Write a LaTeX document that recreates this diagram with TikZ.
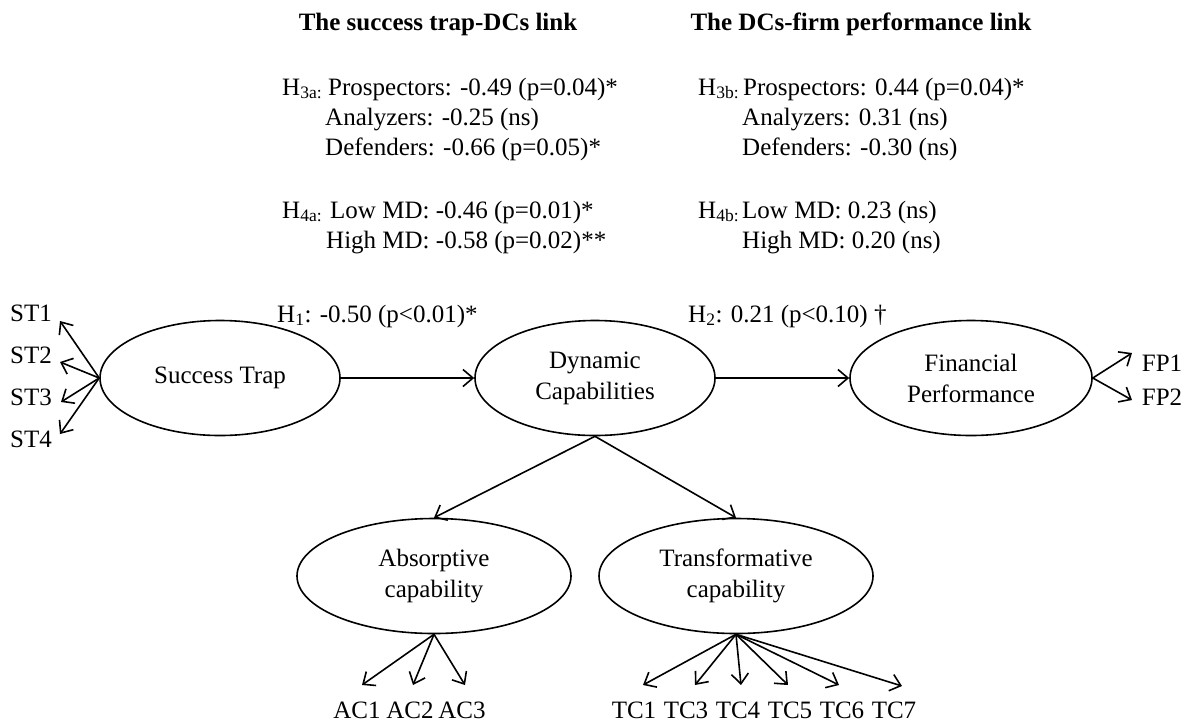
\documentclass[tikz,border=0pt]{standalone}
\usepackage{fontspec}
\setmainfont{Liberation Serif}
\usetikzlibrary{shapes.geometric,arrows.meta}
\begin{document}
\begin{tikzpicture}[x=1pt,y=-1pt,
  every node/.style={font=\fontsize{25}{31}\selectfont, inner sep=0pt},
  lv/.style={draw, ellipse, line width=1.6pt, minimum width=240pt, minimum height=115pt, align=center},
  lvw/.style={lv, minimum width=274pt},
  arr/.style={line width=1.6pt, -{Straight Barb[length=10pt,width=17pt,line width=1.6pt]}},
  txt/.style={anchor=base west},
  ind/.style={anchor=base},
  hdr/.style={anchor=base, font=\fontsize{25}{31}\selectfont\bfseries}]
\path[use as bounding box] (0,0) rectangle (1196,724);
% headers
\node[hdr] (hd1) at (438,30) {The success trap-DCs link};
\node[hdr] (hd2) at (861,30) {The DCs-firm performance link};
% left block
\node[txt] (h3a) at (282,95) {H\textsubscript{3a:}};
\node[txt] (h3a1) at (328,95) {Prospectors: -0.49 (p=0.04)*};
\node[txt] (h3a2) at (325,125) {Analyzers: -0.25 (ns)};
\node[txt] (h3a3) at (325,155) {Defenders: -0.66 (p=0.05)*};
\node[txt] (h4a) at (282,218) {H\textsubscript{4a:}};
\node[txt] (h4a1) at (330,218) {Low MD: -0.46 (p=0.01)*};
\node[txt] (h4a2) at (326,248) {High MD: -0.58 (p=0.02)**};
% right block
\node[txt] (h3b) at (698,95) {H\textsubscript{3b:}};
\node[txt] (h3b1) at (743,95) {Prospectors: 0.44 (p=0.04)*};
\node[txt] (h3b2) at (742,125) {Analyzers: 0.31 (ns)};
\node[txt] (h3b3) at (742,155) {Defenders: -0.30 (ns)};
\node[txt] (h4b) at (698,218) {H\textsubscript{4b:}};
\node[txt] (h4b1) at (742,218) {Low MD: 0.23 (ns)};
\node[txt] (h4b2) at (742,248) {High MD: 0.20 (ns)};
% path labels
\node[txt] (H1) at (277,322) {H\textsubscript{1}: -0.50 (p<0.01)*};
\node[txt] (H2) at (688,322) {H\textsubscript{2}: 0.21 (p<0.10) \textdagger};
% latent variables
\node[lv] (ST) at (220,378) {Success Trap};
\node[lv] (DC) at (595,378) {Dynamic\\Capabilities};
\node[lv, minimum width=242pt] (FP) at (971,378) {Financial\\Performance};
\node[lvw] (AC) at (434,576) {Absorptive\\capability};
\node[lvw] (TC) at (736,576) {Transformative\\capability};
% structural arrows
\draw[arr] (ST) -- (DC);
\draw[arr] (DC) -- (FP);
\draw[arr] (DC.south) -- (AC.north);
\draw[arr] (DC.south) -- (TC.north);
% ST indicators
\node[ind] (st1) at (31,321) {ST1};
\node[ind] (st2) at (31,363) {ST2};
\node[ind] (st3) at (31,405) {ST3};
\node[ind] (st4) at (31,447) {ST4};
\coordinate (st1t) at (60,321);
\coordinate (st2t) at (60,362);
\coordinate (st3t) at (61,402);
\coordinate (st4t) at (60,434);
\foreach \t in {st1t,st2t,st3t,st4t} \draw[arr] (ST.west) -- (\t);
% FP indicators
\node[ind] (fp1) at (1162,371) {FP1};
\node[ind] (fp2) at (1162,405) {FP2};
\coordinate (fp1t) at (1132,353);
\coordinate (fp2t) at (1132,400);
\draw[arr] (FP.east) -- (fp1t);
\draw[arr] (FP.east) -- (fp2t);
% AC indicators
\node[ind] (ac1) at (357,718) {AC1};
\node[ind] (ac2) at (410,718) {AC2};
\node[ind] (ac3) at (462,718) {AC3};
\coordinate (ac1t) at (362,685);
\coordinate (ac2t) at (413,685);
\coordinate (ac3t) at (465,685);
\foreach \t in {ac1t,ac2t,ac3t} \draw[arr] (AC.south) -- (\t);
% TC indicators
\node[ind] (tc1) at (634,718) {TC1};
\node[ind] (tc3) at (686,718) {TC3};
\node[ind] (tc4) at (738,718) {TC4};
\node[ind] (tc5) at (790,718) {TC5};
\node[ind] (tc6) at (842,718) {TC6};
\node[ind] (tc7) at (894,718) {TC7};
\coordinate (tc1t) at (643,685);
\coordinate (tc3t) at (695,685);
\coordinate (tc4t) at (741,685);
\coordinate (tc5t) at (788,685);
\coordinate (tc6t) at (839,685);
\coordinate (tc7t) at (902,686);
\foreach \t in {tc1t,tc3t,tc4t,tc5t,tc6t,tc7t} \draw[arr] (TC.south) -- (\t);
\end{tikzpicture}
\end{document}
